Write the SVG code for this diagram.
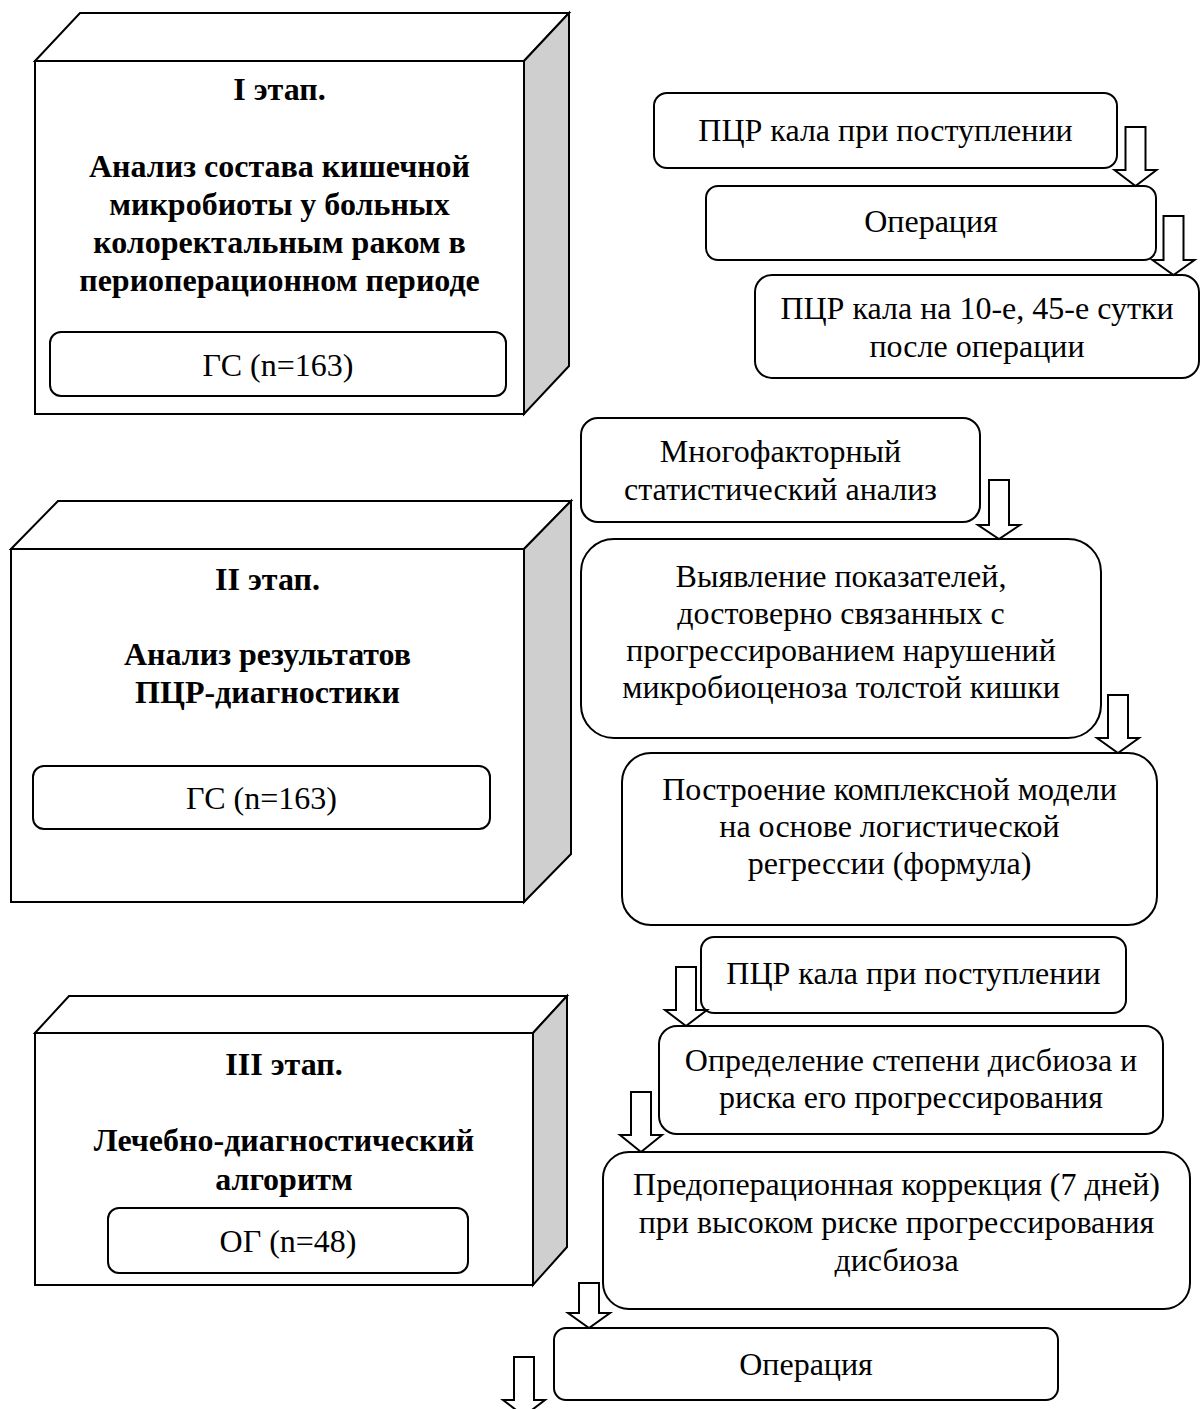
<svg xmlns="http://www.w3.org/2000/svg" width="1202" height="1409" viewBox="0 0 1202 1409">
<style>
  .face{fill:#ffffff;stroke:#000;stroke-width:2;stroke-linejoin:miter}
  .side{fill:#cfcfcf;stroke:#000;stroke-width:2}
  .box{fill:#ffffff;stroke:#000;stroke-width:2}
  .arr{fill:#ffffff;stroke:#000;stroke-width:2;stroke-linejoin:miter}
  text{font-family:"Liberation Serif","Times New Roman",serif;font-size:32px;fill:#000;text-anchor:middle}
  .b{font-weight:bold}
</style>

<g id="stage1">
  <polygon class="face" points="35,61 80,13 569,13 524,61"/>
  <polygon class="side" points="524,61 569,13 569,366 524,414"/>
  <rect class="face" x="35" y="61" width="489" height="353"/>
  <text class="b" x="279.5" y="100">I этап.</text>
  <text class="b" x="279.5" y="177">Анализ состава кишечной</text>
  <text class="b" x="279.5" y="215">микробиоты у больных</text>
  <text class="b" x="279.5" y="253">колоректальным раком в</text>
  <text class="b" x="279.5" y="291">периоперационном периоде</text>
  <g id="stage1-group">
    <rect class="box" x="50" y="332" width="456" height="64" rx="11"/>
    <text x="278" y="376">ГС (n=163)</text>
  </g>
</g>

<g id="stage2">
  <polygon class="face" points="11,549 58,501 571,501 524,549"/>
  <polygon class="side" points="524,549 571,501 571,854 524,902"/>
  <rect class="face" x="11" y="549" width="513" height="353"/>
  <text class="b" x="267.5" y="590">II этап.</text>
  <text class="b" x="267.5" y="665">Анализ результатов</text>
  <text class="b" x="267.5" y="703">ПЦР-диагностики</text>
  <g id="stage2-group">
    <rect class="box" x="33" y="766" width="457" height="63" rx="11"/>
    <text x="261.5" y="809">ГС (n=163)</text>
  </g>
</g>

<g id="stage3">
  <polygon class="face" points="35,1033 69,996 567,996 533,1033"/>
  <polygon class="side" points="533,1033 567,996 567,1247 533,1285"/>
  <rect class="face" x="35" y="1033" width="498" height="252"/>
  <text class="b" x="284" y="1075">III этап.</text>
  <text class="b" x="284" y="1151">Лечебно-диагностический</text>
  <text class="b" x="284" y="1190">алгоритм</text>
  <g id="stage3-group">
    <rect class="box" x="108" y="1208" width="360" height="65" rx="11"/>
    <text x="288" y="1252">ОГ (n=48)</text>
  </g>
</g>

<g id="n-pcr1">
  <rect class="box" x="654" y="93" width="463" height="75" rx="13"/>
  <text x="885.5" y="141">ПЦР кала при поступлении</text>
</g>
<g id="n-op1">
  <rect class="box" x="706" y="186" width="450" height="74" rx="12"/>
  <text x="931" y="232">Операция</text>
</g>
<g id="n-pcr2">
  <rect class="box" x="755" y="275" width="444" height="103" rx="17"/>
  <text x="977" y="319">ПЦР кала на 10-е, 45-е сутки</text>
  <text x="977" y="357">после операции</text>
</g>

<g id="n-multi">
  <rect class="box" x="581" y="418" width="399" height="104" rx="17"/>
  <text x="780.5" y="462">Многофакторный</text>
  <text x="780.5" y="500">статистический анализ</text>
</g>
<g id="n-detect">
  <rect class="box" x="581" y="539" width="520" height="199" rx="33"/>
  <text x="841" y="587">Выявление показателей,</text>
  <text x="841" y="624">достоверно связанных с</text>
  <text x="841" y="661">прогрессированием нарушений</text>
  <text x="841" y="698">микробиоценоза толстой кишки</text>
</g>
<g id="n-model">
  <rect class="box" x="622" y="753" width="535" height="172" rx="29"/>
  <text x="889.5" y="800">Построение комплексной модели</text>
  <text x="889.5" y="837">на основе логистической</text>
  <text x="889.5" y="874">регрессии (формула)</text>
</g>

<g id="n-pcr3">
  <rect class="box" x="701" y="937" width="425" height="76" rx="13"/>
  <text x="913.5" y="984">ПЦР кала при поступлении</text>
</g>
<g id="n-degree">
  <rect class="box" x="659" y="1026" width="504" height="108" rx="18"/>
  <text x="911" y="1071">Определение степени дисбиоза и</text>
  <text x="911" y="1108">риска его прогрессирования</text>
</g>
<g id="n-correction">
  <rect class="box" x="603" y="1152" width="587" height="157" rx="26"/>
  <text x="896.5" y="1195">Предоперационная коррекция (7 дней)</text>
  <text x="896.5" y="1233">при высоком риске прогрессирования</text>
  <text x="896.5" y="1271">дисбиоза</text>
</g>
<g id="n-op2">
  <rect class="box" x="554" y="1328" width="504" height="72" rx="12"/>
  <text x="806" y="1375">Операция</text>
</g>

<g id="connectors">
  <path class="arr" d="M1125.5,127 H1145.5 V170 H1156.5 L1135.5,186 L1114.5,170 H1125.5 Z"/>
  <path class="arr" d="M1163.5,216 H1183.5 V260 H1194.5 L1173.5,275 L1152.5,260 H1163.5 Z"/>
  <path class="arr" d="M989,480 H1009 V525 H1020 L999,539 L978,525 H989 Z"/>
  <path class="arr" d="M1108,695 H1128 V738 H1139 L1118,753 L1097,738 H1108 Z"/>
  <path class="arr" d="M676,967 H696 V1010 H707 L686,1026 L665,1010 H676 Z"/>
  <path class="arr" d="M631,1092 H651 V1135 H662 L641,1152 L620,1135 H631 Z"/>
  <path class="arr" d="M579,1283 H599 V1313 H610 L589,1328 L568,1313 H579 Z"/>
  <path class="arr" d="M514,1357 H534 V1400 H545 L524,1416 L503,1400 H514 Z"/>
</g>
</svg>
